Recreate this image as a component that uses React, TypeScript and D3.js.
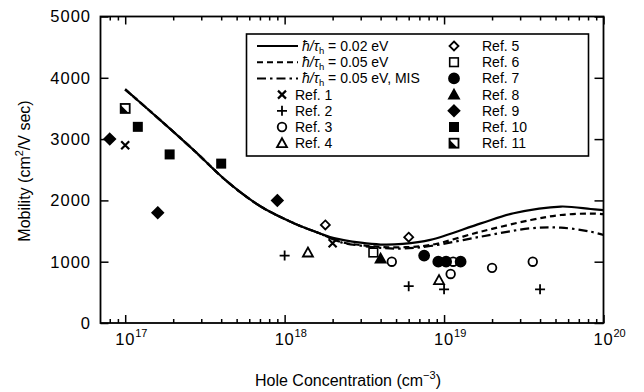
import React, { useEffect, useRef } from 'react';
import * as d3 from 'd3';

// axis ticks
const xMajor = [1e17, 1e18, 1e19, 1e20];
const xMajorExp = ['17', '18', '19', '20'];
const yTicks = [0, 1000, 2000, 3000, 4000, 5000];

// model curves [hole concentration, mobility]
const curve002: [number, number][] = [
  [1e17, 3810], [1.66e17, 3310], [2.69e17, 2820], [4.37e17, 2305], [7.08e17, 1900],
  [1.15e18, 1625], [1.66e18, 1465], [2.04e18, 1385], [3e18, 1310], [4e18, 1280],
  [5.5e18, 1290], [8.2e18, 1355], [1.7e19, 1625], [2.73e19, 1790], [5.4e19, 1900],
  [8.3e19, 1860], [1e20, 1840]
];
const curve005: [number, number][] = [
  [1e17, 3810], [1.66e17, 3310], [2.69e17, 2820], [4.37e17, 2305], [7.08e17, 1900],
  [1.15e18, 1625], [1.66e18, 1460], [2.3e18, 1315], [3e18, 1272], [4e18, 1240],
  [5.5e18, 1235], [8.2e18, 1272], [1.7e19, 1490], [3.5e19, 1680], [5.4e19, 1762],
  [8.3e19, 1785], [1e20, 1775]
];
const curve005mis: [number, number][] = [
  [1e17, 3810], [1.66e17, 3310], [2.69e17, 2820], [4.37e17, 2305], [7.08e17, 1900],
  [1.15e18, 1625], [1.66e18, 1460], [2.3e18, 1310], [3e18, 1262], [4e18, 1225],
  [5.5e18, 1215], [8.2e18, 1256], [1.7e19, 1408], [3.5e19, 1545], [5.4e19, 1555],
  [8.3e19, 1490], [1e20, 1435]
];

// measured points
const ref1: [number, number][] = [[1e17, 2900], [2e18, 1300]];
const ref2: [number, number][] = [[1e18, 1100], [6e18, 600], [1e19, 550], [4e19, 550]];
const ref3: [number, number][] = [[4.7e18, 1000], [1.14e19, 1000], [1.1e19, 800], [2e19, 900], [3.6e19, 1000]];
const ref4: [number, number][] = [[1.4e18, 1150], [9.3e18, 700]];
const ref5: [number, number][] = [[1.8e18, 1600], [6e18, 1400]];
const ref6: [number, number][] = [[3.6e18, 1150]];
const ref7: [number, number][] = [[7.5e18, 1100], [9.2e18, 1000], [1.03e19, 1000], [1.27e19, 1000]];
const ref8: [number, number][] = [[4e18, 1050]];
const ref9: [number, number][] = [[8e16, 3000], [1.6e17, 1800], [9e17, 2000]];
const ref10: [number, number][] = [[1.2e17, 3200], [1.9e17, 2750], [4e17, 2600]];
const ref11: [number, number][] = [[1e17, 3500]];

const FONT = 'Liberation Sans, Arial, Helvetica, sans-serif';

function drawMarker(g: any, kind: string, cx: number, cy: number) {
  if (kind === 'x') {
    const a = 4;
    g.append('path').attr('d', `M${cx - a},${cy - a}L${cx + a},${cy + a}M${cx - a},${cy + a}L${cx + a},${cy - a}`)
      .attr('stroke', '#000').attr('stroke-width', 2.2);
  } else if (kind === 'plus') {
    const a = 5;
    g.append('path').attr('d', `M${cx - a},${cy}L${cx + a},${cy}M${cx},${cy - a}L${cx},${cy + a}`)
      .attr('stroke', '#000').attr('stroke-width', 1.8);
  } else if (kind === 'circleOpen' || kind === 'circle') {
    g.append('circle').attr('cx', cx).attr('cy', cy).attr('r', kind === 'circle' ? 5 : 4.3)
      .attr('fill', kind === 'circle' ? '#000' : '#fff').attr('stroke', '#000').attr('stroke-width', 1.8);
  } else if (kind === 'triOpen' || kind === 'tri') {
    const a = 5;
    g.append('path').attr('d', `M${cx},${cy - a}L${cx + a},${cy + a * 0.8}L${cx - a},${cy + a * 0.8}Z`)
      .attr('fill', kind === 'tri' ? '#000' : '#fff').attr('stroke', '#000').attr('stroke-width', 1.8);
  } else if (kind === 'diaOpen' || kind === 'dia') {
    const a = kind === 'dia' ? 5.5 : 4.5;
    g.append('path').attr('d', `M${cx},${cy - a}L${cx + a},${cy}L${cx},${cy + a}L${cx - a},${cy}Z`)
      .attr('fill', kind === 'dia' ? '#000' : '#fff').attr('stroke', '#000').attr('stroke-width', 1.8);
  } else if (kind === 'sqOpen' || kind === 'sq') {
    const a = kind === 'sq' ? 5 : 4.3;
    g.append('rect').attr('x', cx - a).attr('y', cy - a).attr('width', 2 * a).attr('height', 2 * a)
      .attr('fill', kind === 'sq' ? '#000' : '#fff').attr('stroke', '#000').attr('stroke-width', kind === 'sq' ? 0 : 1.6);
  } else if (kind === 'hatch') {
    const a = 4.5;
    g.append('rect').attr('x', cx - a).attr('y', cy - a).attr('width', 2 * a).attr('height', 2 * a)
      .attr('fill', '#fff').attr('stroke', '#000').attr('stroke-width', 1.8);
    g.append('path').attr('d', `M${cx - a},${cy - a + 1}L${cx + a - 1},${cy + a}L${cx - a},${cy + a}Z`).attr('fill', '#000');
  }
}

export default function App() {
  const ref = useRef<SVGSVGElement>(null);

  useEffect(() => {
    const svg = d3.select(ref.current);
    svg.selectAll('*').remove();

    const left = 100.5, right = 603.5, top = 16.5, bottom = 323;
    const x = d3.scaleLog().domain([7e16, 1e20]).range([left, right]);
    const y = d3.scaleLinear().domain([0, 5000]).range([bottom, top]);

    // minor ticks 2..9 per decade
    const xMinor: number[] = [];
    [16, 17, 18, 19].forEach(e => {
      for (let m = 2; m <= 9; m++) {
        const v = m * Math.pow(10, e);
        if (v > 7.05e16 && v < 1e20) xMinor.push(v);
      }
    });

    const axes = svg.append('g');
    const bx = (g: any) => g.call((s: any) => s.select('.domain').remove()).selectAll('line').attr('stroke-width', 1.5);
    axes.append('g').attr('transform', `translate(0,${bottom})`)
      .call(d3.axisBottom(x).tickValues(xMajor).tickSize(-8).tickSizeOuter(0).tickFormat(() => '')).call(bx);
    axes.append('g').attr('transform', `translate(0,${bottom})`)
      .call(d3.axisBottom(x).tickValues(xMinor).tickSize(-4).tickSizeOuter(0).tickFormat(() => '')).call(bx);
    axes.append('g').attr('transform', `translate(0,${top})`)
      .call(d3.axisTop(x).tickValues(xMajor).tickSize(-8).tickSizeOuter(0).tickFormat(() => '')).call(bx);
    axes.append('g').attr('transform', `translate(0,${top})`)
      .call(d3.axisTop(x).tickValues(xMinor).tickSize(-4).tickSizeOuter(0).tickFormat(() => '')).call(bx);
    axes.append('g').attr('transform', `translate(${left},0)`)
      .call(d3.axisLeft(y).tickValues(yTicks).tickSize(-8).tickSizeOuter(0).tickFormat(() => '')).call(bx);
    axes.append('g').attr('transform', `translate(${right},0)`)
      .call(d3.axisRight(y).tickValues(yTicks).tickSize(-9).tickSizeOuter(0).tickFormat(() => '')).call(bx);

    svg.append('rect').attr('x', left).attr('y', top).attr('width', right - left).attr('height', bottom - top)
      .attr('fill', 'none').attr('stroke', '#000').attr('stroke-width', 1.8);

    // tick labels
    svg.append('g').selectAll('text').data(yTicks).enter().append('text')
      .attr('x', 91).attr('y', d => y(d)).attr('dy', '0.36em')
      .attr('text-anchor', 'end').attr('font-family', FONT).attr('font-size', 16.5)
      .attr('letter-spacing', 1).text(d => String(d));

    xMajor.forEach((v, i) => {
      const t = svg.append('text').attr('x', x(v) - 10).attr('y', 345)
        .attr('font-family', FONT).attr('font-size', 16.5).attr('letter-spacing', 0.8);
      t.append('tspan').text('10');
      t.append('tspan').attr('dy', -8).attr('font-size', 11).attr('letter-spacing', 0).text(xMajorExp[i]);
    });

    // axis titles
    const xt = svg.append('text').attr('x', 348).attr('y', 386).attr('text-anchor', 'middle')
      .attr('font-family', FONT).attr('font-size', 16);
    xt.append('tspan').text('Hole Concentration (cm');
    xt.append('tspan').attr('dy', -7).attr('font-size', 11).text('−3');
    xt.append('tspan').attr('dy', 7).text(')');

    const yt = svg.append('text').attr('transform', 'translate(30,171) rotate(-90)').attr('text-anchor', 'middle')
      .attr('font-family', FONT).attr('font-size', 16);
    yt.append('tspan').text('Mobility (cm');
    yt.append('tspan').attr('dy', -7).attr('font-size', 11).text('2');
    yt.append('tspan').attr('dy', 7).text('/V sec)');

    // curves
    const line = d3.line<[number, number]>().x(d => x(d[0])).y(d => y(d[1])).curve(d3.curveCatmullRom);
    const curves = [
      { data: curve005mis, dash: '9 4 2.5 4' },
      { data: curve005, dash: '6 4' },
      { data: curve002, dash: null }
    ];
    curves.forEach(c => {
      svg.append('path').attr('d', line(c.data)).attr('fill', 'none').attr('stroke', '#000')
        .attr('stroke-width', 2.2).attr('stroke-dasharray', c.dash);
    });

    // points
    const series: [string, [number, number][]][] = [
      ['x', ref1], ['plus', ref2], ['circleOpen', ref3], ['triOpen', ref4], ['diaOpen', ref5],
      ['sqOpen', ref6], ['circle', ref7], ['tri', ref8], ['dia', ref9], ['sq', ref10], ['hatch', ref11]
    ];
    const pts = svg.append('g');
    series.forEach(([kind, data]) => {
      data.forEach(d => drawMarker(pts, kind, x(d[0]), y(d[1])));
    });

    // legend
    const lg = svg.append('g');
    lg.append('rect').attr('x', 246.5).attr('y', 34).attr('width', 342).attr('height', 122)
      .attr('fill', '#fff').attr('stroke', '#000').attr('stroke-width', 1.6);
    const rowY = (i: number) => 46 + 16.2 * i;
    const lineLabels = ['0.02 eV', '0.05 eV', '0.05 eV, MIS'];
    const lineDash = [null, '6 4', '9 4 2.5 4'];
    lineLabels.forEach((lab, i) => {
      lg.append('line').attr('x1', 257).attr('x2', 298).attr('y1', rowY(i)).attr('y2', rowY(i))
        .attr('stroke', '#000').attr('stroke-width', 2).attr('stroke-dasharray', lineDash[i]);
      const t = lg.append('text').attr('x', 302).attr('y', rowY(i) + 5)
        .attr('font-family', FONT).attr('font-size', 14);
      t.append('tspan').attr('font-style', 'italic').text('ħ/τ');
      t.append('tspan').attr('dy', 2.5).attr('font-size', 9.5).text('h');
      t.append('tspan').attr('dy', -2.5).text(' = ' + lab);
    });
    series.forEach(([kind], i) => {
      const col = i < 4 ? 0 : 1;
      const row = col === 0 ? i + 3 : i - 4;
      const mx = col === 0 ? 282 : 454;
      const tx = col === 0 ? 295 : 482;
      drawMarker(lg, kind, mx, rowY(row));
      lg.append('text').attr('x', tx).attr('y', rowY(row) + 5)
        .attr('font-family', FONT).attr('font-size', 14).text('Ref. ' + (i + 1));
    });
  }, []);

  return (
    <svg ref={ref} width={644} height={392}
      style={{ position: 'absolute', left: 0, top: 0, background: '#fff' }} />
  );
}
